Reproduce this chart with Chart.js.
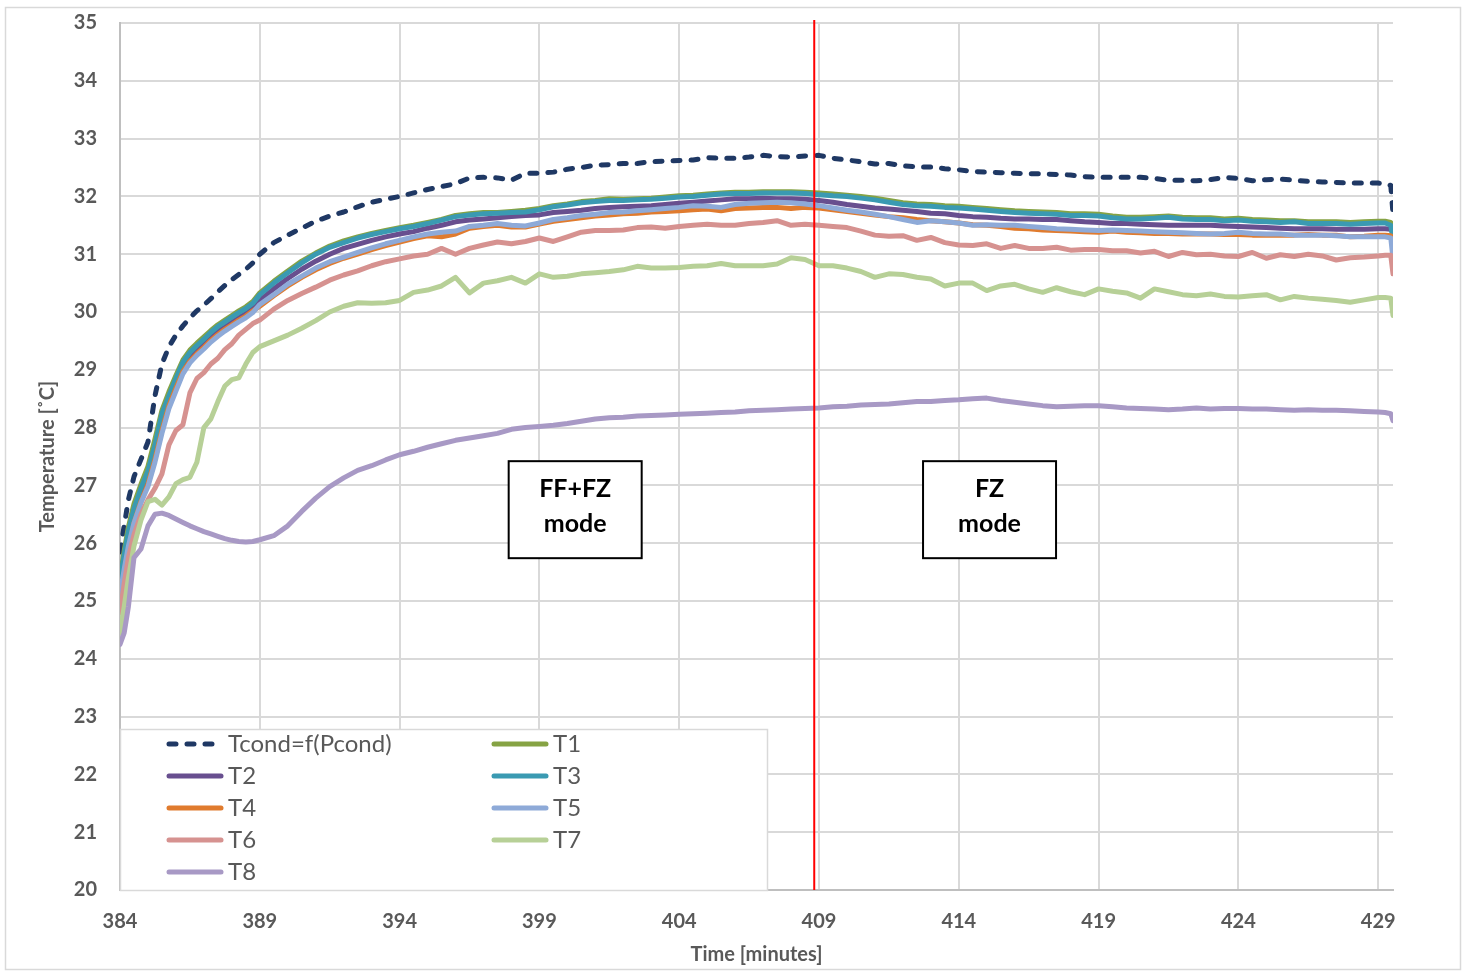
<!DOCTYPE html>
<html>
<head>
<meta charset="utf-8">
<script src="https://cdn.jsdelivr.net/npm/chart.js@4.4.0/dist/chart.umd.min.js"></script>
<style>
  body { margin: 0; background: #fff; }
  canvas { display: block; }
</style>
</head>
<body>
<canvas id="tempChart" width="1467" height="972"></canvas>
<script>
// time in minutes (denser sampling during the start-up)
const time = [
  384, 384.15, 384.3, 384.5, 384.75, 385, 385.25, 385.5, 385.75, 386,
  386.25, 386.5, 386.75, 387, 387.25, 387.5, 387.75, 388, 388.25, 388.5, 388.75,
  389, 389.5, 390, 390.5, 391, 391.5, 392, 392.5, 393, 393.5,
  394, 394.5, 395, 395.5, 396, 396.5, 397, 397.5, 398, 398.5,
  399, 399.5, 400, 400.5, 401, 401.5, 402, 402.5, 403, 403.5,
  404, 404.5, 405, 405.5, 406, 406.5, 407, 407.5, 408, 408.5,
  409, 409.5, 410, 410.5, 411, 411.5, 412, 412.5, 413, 413.5,
  414, 414.5, 415, 415.5, 416, 416.5, 417, 417.5, 418, 418.5,
  419, 419.5, 420, 420.5, 421, 421.5, 422, 422.5, 423, 423.5,
  424, 424.5, 425, 425.5, 426, 426.5, 427, 427.5, 428, 428.5,
  429, 429.25, 429.45, 429.53
];

const tcond = [
  25.85, 26.3, 26.75, 27.15, 27.45, 27.75, 28.55, 29.1, 29.4, 29.6,
  29.76, 29.9, 30.02, 30.12, 30.23, 30.35, 30.46, 30.56, 30.65, 30.74, 30.85,
  31.0, 31.2, 31.33, 31.45, 31.57, 31.66, 31.73, 31.82, 31.9, 31.95,
  32.0, 32.06, 32.12, 32.17, 32.22, 32.32, 32.33, 32.32, 32.28, 32.4,
  32.4, 32.42, 32.47, 32.5, 32.54, 32.55, 32.57, 32.57, 32.6, 32.61,
  32.62, 32.63, 32.67, 32.66, 32.66, 32.68, 32.71, 32.69, 32.68, 32.7,
  32.71, 32.66, 32.63, 32.6, 32.56, 32.57, 32.53, 32.51, 32.51, 32.48,
  32.46, 32.43, 32.42, 32.41, 32.4, 32.39, 32.39, 32.38, 32.37, 32.34,
  32.33, 32.33, 32.33, 32.33, 32.31, 32.28, 32.28, 32.27, 32.29, 32.33,
  32.31, 32.27, 32.29, 32.3, 32.28, 32.26, 32.25, 32.24, 32.23, 32.23,
  32.23, 32.22, 32.19, 31.7
];

const t1 = [
  25.4, 25.87, 26.28, 26.68, 27.02, 27.33, 27.8, 28.3, 28.62, 28.9,
  29.17, 29.34, 29.46, 29.57, 29.68, 29.78, 29.86, 29.94, 30.02, 30.09, 30.18,
  30.33, 30.53, 30.71, 30.88, 31.02, 31.14, 31.23, 31.3, 31.36, 31.41,
  31.46, 31.5, 31.55, 31.6, 31.67, 31.7, 31.72, 31.72, 31.74, 31.76,
  31.79, 31.84, 31.87, 31.91, 31.93, 31.96, 31.95, 31.96, 31.97, 31.99,
  32.01, 32.02, 32.04, 32.06, 32.07, 32.07, 32.08, 32.08, 32.08, 32.07,
  32.06, 32.04, 32.02, 32.0, 31.97, 31.93, 31.89, 31.87, 31.86, 31.84,
  31.83, 31.81, 31.79, 31.77, 31.75, 31.74, 31.73, 31.72, 31.7, 31.7,
  31.69, 31.66, 31.64, 31.64, 31.65, 31.66, 31.64, 31.63, 31.63, 31.61,
  31.62, 31.6, 31.59, 31.58, 31.58, 31.56, 31.56, 31.56, 31.55, 31.56,
  31.57, 31.57, 31.55, 31.48
];

const t2 = [
  25.2, 25.65, 26.05, 26.45, 26.82, 27.12, 27.55, 28.1, 28.45, 28.75,
  29.03, 29.2, 29.33, 29.44, 29.56, 29.66, 29.74, 29.82, 29.9, 29.97, 30.06,
  30.2, 30.4, 30.58, 30.74, 30.88, 31.0, 31.1, 31.17, 31.24, 31.3,
  31.35, 31.39, 31.45, 31.5, 31.56, 31.59, 31.61, 31.63, 31.65, 31.67,
  31.68, 31.72, 31.74, 31.76, 31.79, 31.81, 31.82, 31.83, 31.84, 31.86,
  31.88, 31.9, 31.92, 31.94, 31.96, 31.96, 31.97, 31.96, 31.96, 31.95,
  31.93, 31.9, 31.86, 31.83, 31.8, 31.78, 31.76, 31.74, 31.71, 31.7,
  31.67, 31.65, 31.64, 31.62, 31.61, 31.61, 31.6, 31.6, 31.58, 31.56,
  31.55, 31.53, 31.53, 31.52, 31.51, 31.5, 31.5, 31.5, 31.5, 31.49,
  31.48, 31.47, 31.46, 31.45, 31.44, 31.44, 31.44, 31.43, 31.43, 31.43,
  31.44, 31.44, 31.43, 31.38
];

const t3 = [
  25.35, 25.8, 26.2, 26.6, 26.95, 27.25, 27.7, 28.24, 28.55, 28.85,
  29.13, 29.3, 29.42, 29.53, 29.65, 29.75, 29.83, 29.91, 29.99, 30.06, 30.15,
  30.3, 30.5, 30.68, 30.85, 31.0, 31.12, 31.2, 31.28, 31.34, 31.39,
  31.44, 31.48, 31.53, 31.59, 31.65, 31.68, 31.7, 31.71, 31.72, 31.73,
  31.77, 31.82, 31.85, 31.89, 31.91, 31.93, 31.93, 31.94, 31.95, 31.97,
  31.99, 32.0, 32.02, 32.04, 32.05, 32.05, 32.06, 32.06, 32.06, 32.05,
  32.03, 32.01, 32.0, 31.97, 31.94, 31.9, 31.86, 31.84, 31.83, 31.81,
  31.8, 31.78, 31.76, 31.74, 31.72, 31.71, 31.7, 31.69, 31.67, 31.67,
  31.66, 31.63, 31.61, 31.61, 31.62, 31.64, 31.61, 31.6, 31.6, 31.58,
  31.59, 31.57, 31.56, 31.55, 31.56, 31.53, 31.53, 31.53, 31.52, 31.53,
  31.54, 31.54, 31.5, 31.25
];

const t4 = [
  24.95, 25.5, 25.9, 26.35, 26.72, 27.02, 27.45, 27.95, 28.38, 28.68,
  28.97, 29.15, 29.28, 29.39, 29.51, 29.61, 29.7, 29.78, 29.86, 29.93, 30.02,
  30.1, 30.28, 30.45, 30.6, 30.73, 30.84, 30.93, 31.0, 31.08, 31.15,
  31.21, 31.27, 31.32, 31.3, 31.35, 31.45, 31.48, 31.5, 31.47, 31.47,
  31.52, 31.57, 31.6, 31.63, 31.66, 31.68, 31.7, 31.71, 31.73, 31.74,
  31.75, 31.77, 31.78, 31.75, 31.79, 31.8, 31.81, 31.81, 31.79, 31.81,
  31.8, 31.77, 31.74, 31.71, 31.68, 31.65, 31.63, 31.6, 31.58, 31.56,
  31.54, 31.51, 31.5, 31.48, 31.45, 31.44, 31.42, 31.41, 31.4, 31.39,
  31.38, 31.4, 31.38, 31.37, 31.36, 31.36, 31.35, 31.35, 31.35, 31.34,
  31.34, 31.33, 31.33, 31.33, 31.33, 31.34, 31.33, 31.33, 31.3, 31.31,
  31.33, 31.33, 31.32, 31.2
];

const t5 = [
  25.1, 25.55, 25.95, 26.35, 26.7, 26.98, 27.4, 27.9, 28.33, 28.63,
  28.93, 29.12, 29.25, 29.36, 29.48, 29.58, 29.67, 29.75, 29.83, 29.9, 29.99,
  30.13, 30.3, 30.48, 30.62, 30.76, 30.87, 30.95, 31.03, 31.11, 31.18,
  31.24, 31.3, 31.35, 31.38, 31.4, 31.48, 31.5, 31.53, 31.5, 31.49,
  31.54, 31.6, 31.63, 31.67, 31.69, 31.72, 31.73, 31.75, 31.77, 31.79,
  31.81, 31.84, 31.83, 31.81, 31.86, 31.88, 31.89, 31.9, 31.89, 31.87,
  31.84, 31.8, 31.76, 31.73, 31.69, 31.65, 31.6, 31.55, 31.58, 31.56,
  31.54, 31.5, 31.51, 31.5, 31.5, 31.48, 31.46, 31.44, 31.43, 31.42,
  31.41, 31.42, 31.41, 31.4, 31.39, 31.38, 31.37, 31.36, 31.35, 31.36,
  31.38, 31.36, 31.35, 31.35, 31.33, 31.33, 31.33, 31.32, 31.3, 31.3,
  31.3, 31.3, 31.28, 30.92
];

const t6 = [
  24.8, 25.3, 25.75, 26.15, 26.5, 26.75, 26.95, 27.2, 27.7, 27.95,
  28.05, 28.6, 28.85, 28.95, 29.1, 29.2, 29.35, 29.45, 29.6, 29.7, 29.8,
  29.86, 30.05, 30.2, 30.32, 30.43, 30.55, 30.64, 30.71, 30.8, 30.87,
  30.92, 30.97, 31.0, 31.1, 31.0, 31.1, 31.16, 31.21, 31.18, 31.22,
  31.28, 31.22, 31.3, 31.38, 31.41, 31.41, 31.42, 31.46, 31.47, 31.45,
  31.48, 31.5, 31.52, 31.5, 31.5, 31.53, 31.55, 31.58, 31.5, 31.52,
  31.5, 31.48, 31.46, 31.4, 31.33, 31.31, 31.32, 31.24, 31.29, 31.2,
  31.16, 31.15, 31.18, 31.1, 31.15, 31.1, 31.1, 31.12, 31.07, 31.08,
  31.08, 31.06, 31.06, 31.02, 31.05, 30.96, 31.03, 30.99, 31.0, 30.97,
  30.96, 31.03, 30.93, 30.99, 30.96, 31.0, 30.97, 30.9, 30.94, 30.95,
  30.97, 30.98, 30.98, 30.66
];

const t7 = [
  24.45, 24.9, 25.4, 25.95, 26.4, 26.72, 26.76, 26.66, 26.8, 27.03,
  27.1, 27.14, 27.4, 28.0, 28.15, 28.45, 28.72, 28.83, 28.86, 29.1, 29.3,
  29.4, 29.5, 29.6, 29.72, 29.85, 30.0, 30.1, 30.16, 30.15, 30.16,
  30.2, 30.34, 30.38, 30.45, 30.6, 30.33, 30.5, 30.54, 30.6, 30.5,
  30.66, 30.6, 30.62, 30.66, 30.68, 30.7, 30.73, 30.79, 30.76, 30.76,
  30.77, 30.79, 30.8, 30.84, 30.8, 30.8, 30.8, 30.83, 30.94, 30.91,
  30.8, 30.8, 30.76, 30.7, 30.6, 30.66, 30.65, 30.6, 30.57, 30.45,
  30.5, 30.5, 30.37, 30.45, 30.48, 30.4, 30.34, 30.42, 30.35, 30.3,
  30.4, 30.36, 30.33, 30.24, 30.4, 30.35, 30.3, 30.28, 30.31, 30.27,
  30.26, 30.28, 30.3, 30.21, 30.27, 30.24, 30.22, 30.2, 30.17, 30.21,
  30.25, 30.25, 30.24, 29.94
];

const t8 = [
  24.25, 24.45, 24.9, 25.75, 25.9, 26.3, 26.5, 26.52, 26.48, 26.42,
  26.36, 26.3, 26.25, 26.2, 26.16, 26.12, 26.08, 26.05, 26.03, 26.02, 26.03,
  26.06, 26.13, 26.3, 26.55, 26.78, 26.98, 27.13, 27.26, 27.34, 27.44,
  27.53, 27.59, 27.66, 27.72, 27.78, 27.82, 27.86, 27.9, 27.97, 28.0,
  28.02, 28.04, 28.07, 28.11, 28.15, 28.17, 28.18, 28.2, 28.21, 28.22,
  28.23, 28.24, 28.25, 28.26, 28.27, 28.29, 28.3, 28.31, 28.32, 28.33,
  28.34, 28.36, 28.37, 28.39, 28.4, 28.41, 28.43, 28.45, 28.45, 28.47,
  28.48, 28.5, 28.51, 28.47, 28.44, 28.41, 28.38, 28.36, 28.37, 28.38,
  28.38, 28.36, 28.34, 28.33, 28.32, 28.31, 28.32, 28.34, 28.32, 28.33,
  28.33, 28.32, 28.32, 28.31, 28.3, 28.31, 28.3, 28.3, 28.29, 28.28,
  28.27, 28.26, 28.24, 28.12
];

const seriesNames = ['Tcond=f(Pcond)', 'T1', 'T2', 'T3', 'T4', 'T5', 'T6', 'T7', 'T8'];
const seriesColors = ['#1f3864', '#86a344', '#684f8f', '#3a9ab2', '#e07b2e', '#8eaad8', '#d69290', '#b7d097', '#a899c5'];
const xTicks = [384, 389, 394, 399, 404, 409, 414, 419, 424, 429];
const modeSwitch = 408.83;
const modeNotes = [
  { lines: ['FF+FZ', 'mode'], t: 400.28, temp: 26.58 },
  { lines: ['FZ', 'mode'], t: 415.1, temp: 26.58 }
];

const allSeries = [tcond, t1, t2, t3, t4, t5, t6, t7, t8];
const grey = '#595959';

const datasets = allSeries.map(function(values, i) {
    return {
        label: seriesNames[i],
        data: time.map(function(t, j) { return { x: t, y: values[j] }; }),
        borderColor: seriesColors[i],
        backgroundColor: seriesColors[i],
        borderWidth: 5,
        borderDash: i === 0 ? [7, 11] : [],
        pointRadius: 0,
        tension: 0,
        borderJoinStyle: 'round',
        borderCapStyle: 'round',
        order: allSeries.length - i
    };
});

const framePlugin = {
    id: 'frame',
    beforeDraw(chart) {
        const c = chart.ctx;
        c.save();
        c.fillStyle = '#fff';
        c.fillRect(0, 0, chart.width, chart.height);
        c.strokeStyle = '#d9d9d9';
        c.lineWidth = 1.5;
        c.strokeRect(5.5, 7.5, chart.width - 12, chart.height - 10);
        c.restore();
    }
};

const overlayPlugin = {
    id: 'overlay',
    afterDatasetsDraw(chart) {
        const c = chart.ctx;
        const area = chart.chartArea;
        const xs = chart.scales.x, ys = chart.scales.y;
        c.save();

        // legend box in the lower left corner
        const lx = area.left, lw = 647, lh = 161, ly = area.bottom - lh;
        c.fillStyle = '#fff';
        c.fillRect(lx, ly, lw, lh);
        c.strokeStyle = '#d9d9d9';
        c.lineWidth = 1.5;
        c.strokeRect(lx + 0.5, ly + 0.5, lw, lh);
        c.font = '24px Lato';
        c.textBaseline = 'middle';
        seriesNames.forEach(function(name, i) {
            const col = i % 2, row = Math.floor(i / 2);
            const x0 = lx + (col === 0 ? 47 : 372);
            const y0 = ly + 15 + row * 32;
            c.strokeStyle = seriesColors[i];
            c.lineWidth = 5;
            c.lineCap = 'round';
            c.setLineDash(i === 0 ? [7, 11] : []);
            c.beginPath();
            c.moveTo(x0 + 2, y0);
            c.lineTo(x0 + 54, y0);
            c.stroke();
            c.setLineDash([]);
            c.fillStyle = grey;
            c.textAlign = 'left';
            c.fillText(name, x0 + 61, y0);
        });

        // mode change marker
        const rx = xs.getPixelForValue(modeSwitch);
        c.strokeStyle = '#ff0000';
        c.lineWidth = 2;
        c.lineCap = 'butt';
        c.beginPath();
        c.moveTo(rx, area.top - 3);
        c.lineTo(rx, area.bottom);
        c.stroke();

        // mode labels
        modeNotes.forEach(function(note) {
            const cx = xs.getPixelForValue(note.t);
            const cy = ys.getPixelForValue(note.temp);
            const w = 133, h = 97;
            c.fillStyle = '#fff';
            c.fillRect(cx - w / 2, cy - h / 2, w, h);
            c.strokeStyle = '#000';
            c.lineWidth = 2;
            c.strokeRect(cx - w / 2, cy - h / 2, w, h);
            c.fillStyle = '#000';
            c.font = 'bold 25px Lato';
            c.textAlign = 'center';
            c.fillText(note.lines[0], cx, cy - 21);
            c.fillText(note.lines[1], cx, cy + 14);
        });
        c.restore();
    }
};

const ctx = document.getElementById('tempChart').getContext('2d');
new Chart(ctx, {
    type: 'line',
    data: { datasets: datasets },
    options: {
        responsive: false,
        animation: false,
        devicePixelRatio: 1,
        layout: { padding: { top: 23, right: 74, left: 0, bottom: 0 } },
        plugins: {
            legend: { display: false },
            tooltip: { enabled: false }
        },
        scales: {
            x: {
                type: 'linear',
                min: 384,
                max: 429.53,
                afterBuildTicks: function(scale) {
                    scale.ticks = xTicks.map(function(v) { return { value: v }; });
                },
                afterFit: function(scale) { scale.height = 82; },
                grid: { color: '#d9d9d9', lineWidth: 2, drawTicks: false },
                border: { color: '#bfbfbf', width: 2 },
                ticks: {
                    padding: 20,
                    color: grey,
                    font: { family: 'Lato', size: 20, weight: 'bold' },
                    maxRotation: 0,
                    callback: function(v) { return String(v); }
                },
                title: {
                    display: true,
                    text: 'Time [minutes]',
                    color: grey,
                    font: { family: 'Lato', size: 20, weight: 'bold' },
                    padding: { top: 0, bottom: 5 }
                }
            },
            y: {
                min: 20,
                max: 35,
                afterFit: function(scale) {
                    scale.width = 120;
                    scale.paddingTop = 0;
                    scale.paddingBottom = 0;
                },
                grid: { color: '#d9d9d9', lineWidth: 2, drawTicks: false },
                border: { color: '#bfbfbf', width: 2 },
                ticks: {
                    stepSize: 1,
                    padding: 23,
                    color: grey,
                    font: { family: 'Lato', size: 20, weight: 'bold' }
                },
                title: {
                    display: true,
                    text: 'Temperature [˚C]',
                    color: grey,
                    font: { family: 'Lato', size: 20, weight: 'bold' },
                    padding: { top: 36, bottom: 0 }
                }
            }
        }
    },
    plugins: [framePlugin, overlayPlugin]
});
</script>
</body>
</html>
